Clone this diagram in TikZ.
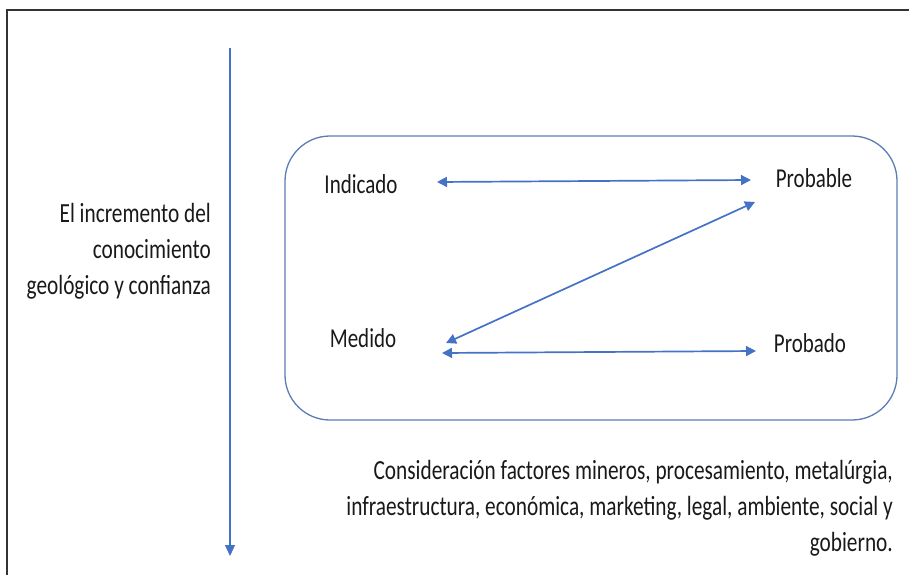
\documentclass[tikz,border=0pt]{standalone}
\usepackage{graphicx}
\usepackage{fontspec}
\setmainfont{Carlito}
\usetikzlibrary{arrows.meta}
\definecolor{blueline}{HTML}{4472C4}
\definecolor{boxline}{HTML}{5B7DB5}
\newcommand{\tallbox}[1]{\scalebox{1}[1.3]{#1}}
\tikzset{
  conn/.style={draw=blueline, line width=1.7pt, {Triangle[length=10pt,width=10pt]}-{Triangle[length=10pt,width=10pt]}},
  axis/.style={draw=blueline, line width=1.2pt, -{Triangle[length=11pt,width=10pt]}},
  lbl/.style={font=\fontsize{21}{27.7}\selectfont, inner sep=0pt, text=black!90},
  para/.style={font=\fontsize{21.3}{27.7}\selectfont, inner sep=0pt, text=black!90},
}
\begin{document}
\begin{tikzpicture}[x=1pt,y=-1pt]
\useasboundingbox (0,0) rectangle (909,575);
% outer frame (top and left edges visible)
\draw[black!80, line width=2pt] (909,10) -- (7,10) -- (7,575);
% vertical axis arrow
\coordinate (axtop) at (230,48);
\coordinate (axbot) at (230,556);
\draw[axis] (axtop) -- (axbot);
% rounded box
\node[draw=boxline, line width=1.3pt, rounded corners=45pt, minimum width=612pt, minimum height=284pt, inner sep=0pt] (box) at (591,278) {};
% labels
\node[lbl] (ind) at (361,184) {\tallbox{Indicado}};
\node[lbl] (prob) at (814,178) {\tallbox{Probable}};
\node[lbl] (med) at (363,338) {\tallbox{Medido}};
\node[lbl] (prd) at (810,343) {\tallbox{Probado}};
% connector end points
\coordinate (a1) at (437,182);
\coordinate (a2) at (751,180);
\coordinate (b1) at (442,353);
\coordinate (b2) at (756,351);
\coordinate (c1) at (755,202);
\coordinate (c2) at (446,343);
\draw[conn] (a1) -- (a2);
\draw[conn] (b1) -- (b2);
\draw[conn] (c1) -- (c2);
% side texts
\node[para, anchor=north east] (left) at (211,197) {\tallbox{\begin{tabular}{@{}r@{}}El incremento del\\conocimiento\\geológico y confianza\end{tabular}}};
\node[para, anchor=north east] (bottom) at (893,454) {\tallbox{\begin{tabular}{@{}r@{}}Consideración factores mineros, procesamiento, metalúrgia,\\infraestructura, económica, marketing, legal, ambiente, social y\\gobierno.\end{tabular}}};
\end{tikzpicture}
\end{document}
